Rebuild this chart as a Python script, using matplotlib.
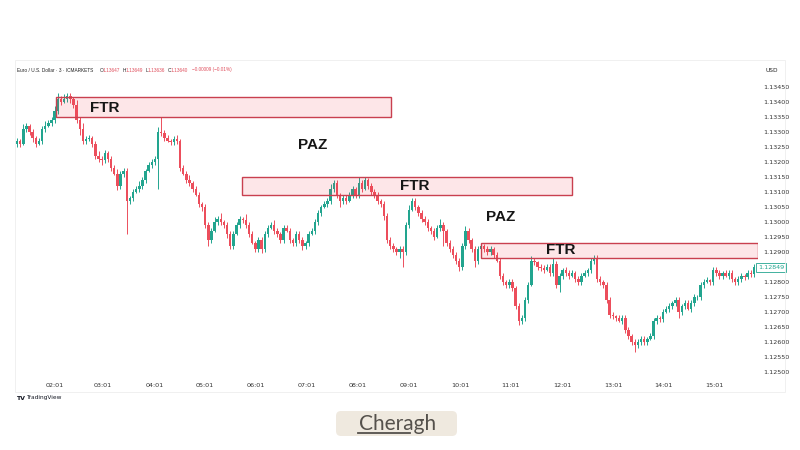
import matplotlib
matplotlib.use('Agg')
import matplotlib.pyplot as plt
from matplotlib.patches import Rectangle, FancyBboxPatch
from matplotlib.lines import Line2D
import matplotlib.transforms as mtransforms

# ---------------- data ----------------
first_open = 1.1326
closes = [
    1.1327, 1.1326, 1.1331, 1.1332, 1.1330, 1.1328, 1.1326, 1.1327, 1.1331, 1.1332,
    1.1333, 1.1334, 1.1337, 1.1341, 1.1340, 1.1341, 1.1342, 1.1341, 1.1339, 1.1334,
    1.1331, 1.1327, 1.13275, 1.1328, 1.1326, 1.1322, 1.1321, 1.13205, 1.1323, 1.1321,
    1.1318, 1.1316, 1.1312, 1.1316, 1.1317, 1.1307, 1.1308, 1.1310, 1.1311, 1.1312,
    1.1314, 1.1317, 1.1319, 1.1320, 1.1321, 1.1330, 1.13295, 1.1328, 1.1327, 1.13265,
    1.13275, 1.1327, 1.1318, 1.1316, 1.1314, 1.1313, 1.1311, 1.1309, 1.1306, 1.1305,
    1.1299, 1.1294, 1.1297, 1.1300, 1.1301, 1.1300, 1.1299, 1.1296, 1.1292, 1.1296,
    1.1299, 1.1301, 1.13005, 1.1299, 1.1296, 1.1293, 1.1291, 1.1294, 1.1291, 1.1296,
    1.1298, 1.1299, 1.1297, 1.1296, 1.1294, 1.1298, 1.1297, 1.1294, 1.1293, 1.1296,
    1.1294, 1.1292, 1.1293, 1.1296, 1.1297, 1.1300, 1.1303, 1.1305, 1.1306, 1.1307,
    1.1311, 1.1313, 1.1309, 1.1307, 1.1308, 1.1307, 1.1309, 1.1311, 1.1309, 1.1313,
    1.1311, 1.1314, 1.1312, 1.1310, 1.1309, 1.1307, 1.1306, 1.1302, 1.1294, 1.1292,
    1.1291, 1.1290, 1.1291, 1.1290, 1.1299, 1.1304, 1.1307, 1.1305, 1.1303, 1.1301,
    1.1300, 1.1298, 1.1297, 1.1295, 1.1298, 1.1299, 1.1297, 1.1293, 1.1291, 1.1289,
    1.1287, 1.1285, 1.1292, 1.1297, 1.1294, 1.1291, 1.1287, 1.1291, 1.1292, 1.1291,
    1.1290, 1.1291, 1.1289, 1.1287, 1.1282, 1.1280, 1.1279, 1.1280, 1.1278, 1.1272,
    1.1267, 1.1268, 1.1274, 1.1279, 1.1287, 1.12865, 1.1285, 1.12845, 1.1284, 1.1285,
    1.1283, 1.1286, 1.1279, 1.1282, 1.1284, 1.1283, 1.1282, 1.1283, 1.1281, 1.1280,
    1.1282, 1.1283, 1.1284, 1.1287, 1.1288, 1.1281, 1.1280, 1.1279, 1.1274, 1.1269,
    1.12685, 1.1268, 1.1267, 1.1268, 1.1264, 1.1262, 1.1260, 1.1259, 1.1260, 1.1261,
    1.1260, 1.1261, 1.1262, 1.1267, 1.1268, 1.12675, 1.1270, 1.1271, 1.1272, 1.1273,
    1.1274, 1.1270, 1.1272, 1.1273, 1.1271, 1.1273, 1.1275, 1.1275, 1.1279, 1.1280,
    1.12805, 1.1280, 1.1284, 1.1283, 1.1282, 1.1283, 1.1282, 1.1283, 1.1281, 1.1280,
    1.1281, 1.1282, 1.12815, 1.1283, 1.12825, 1.1285, 1.12849,
]
upper_wick_pips = [
    1, 0.5, 1.5, 1, 0.5, 1, 0.5, 1, 1, 1.5,
    1, 1, 1.5, 2, 1, 1.5, 1, 1, 0.5, 1.5,
    1, 2, 1, 1, 0.5, 1, 1.5, 1, 1, 0.5,
    1, 1, 1.5, 1, 1, 1, 0.5, 1, 1, 1.5,
    1, 0.5, 1, 1, 1, 1.5, 5, 1, 1, 0.5,
    1, 1.5, 0.5, 1, 1, 1.5, 0.5, 1, 1, 0.5,
    1, 1, 1, 1.5, 1, 2, 0.5, 1, 1, 1,
    1, 1, 0.5, 2, 1, 1, 0.5, 1, 1, 1,
    1, 1, 1.5, 1, 0.5, 1, 1, 1, 0.5, 1,
    1, 1, 0.5, 1, 1, 1, 1, 0.5, 1, 1,
    1.5, 1, 1, 0.5, 1, 1, 1, 1, 0.5, 2,
    1, 1, 0.5, 1, 1, 1, 0.5, 1, 1, 1,
    1, 0.5, 1, 1, 1, 1.5, 1, 1, 0.5, 1,
    1, 1, 0.5, 1, 1, 2, 1, 0.5, 1, 1,
    1, 1, 1, 1.5, 1, 0.5, 1, 1, 1, 0.5,
    1, 1, 0.5, 1, 1, 1, 0.5, 1, 1, 0.5,
    1, 1, 1, 1, 1.5, 1, 0.5, 1, 1, 1,
    1, 2, 1, 1, 0.5, 1, 1, 1, 0.5, 1,
    1, 1, 0.5, 1, 1, 1, 1, 0.5, 1, 1,
    1, 0.5, 1, 1, 1, 1, 0.5, 1, 1, 1,
    1, 0.5, 1, 1, 1, 0.5, 1, 1, 1, 0.5,
    1, 1, 0.5, 1, 1, 1, 1, 0.5, 1, 1,
    1, 0.5, 1, 1, 1, 0.5, 1, 1, 1, 0.5,
    1, 1, 0.5, 1, 1, 1, 0.5,
]
lower_wick_pips = [
    1, 1, 0.5, 1, 1, 1.5, 1, 0.5, 1, 1,
    0.5, 1, 1, 1, 1, 0.5, 1, 1.5, 1, 1,
    2, 1, 1, 0.5, 1, 1, 1, 1.5, 1, 1,
    1, 0.5, 1.5, 1, 1, 11, 1, 1, 0.5, 1,
    1, 1, 0.5, 1, 1, 10, 1, 1, 0.5, 1,
    1, 1, 1, 0.5, 1, 1, 1, 0.5, 1, 1.5,
    1, 2, 1, 0.5, 1, 1, 1, 1.5, 1, 1,
    0.5, 1, 1, 1, 1, 0.5, 1, 1, 1.5, 1,
    1, 0.5, 1, 1, 1, 1, 0.5, 1, 1, 1,
    1, 1.5, 1, 1, 0.5, 1, 1, 1, 0.5, 1,
    1, 1, 1, 2, 1, 1, 0.5, 1, 1, 1,
    1, 0.5, 1, 1, 1, 1, 1, 1.5, 1, 1,
    1, 1, 2, 5, 1, 1, 0.5, 1, 1, 1,
    1, 1, 1, 1, 0.5, 1, 5, 1, 1, 1,
    1, 1.5, 1, 1, 1, 1, 2, 1, 0.5, 1,
    1, 1, 1, 0.5, 1, 1, 1, 1, 1, 1,
    1.5, 1, 1, 1, 0.5, 1, 1, 1, 1, 0.5,
    1, 1, 1, 2.5, 1, 1, 1, 0.5, 1, 1,
    1, 0.5, 1, 1, 1, 1, 1, 1, 1, 1,
    1, 1, 0.5, 1, 1, 1, 1, 2.5, 1, 1,
    1, 1, 0.5, 1, 1, 1, 1, 0.5, 1, 1,
    1, 2, 1, 1, 0.5, 1, 1, 1, 1, 1,
    0.5, 1, 1, 1, 1, 1, 0.5, 1, 1, 1,
    1, 1, 1, 0.5, 1, 1, 1,
]
hour_labels = ['02:01', '03:01', '04:01', '05:01', '06:01', '07:01', '08:01',
               '09:01', '10:01', '11:01', '12:01', '13:01', '14:01', '15:01']
hour_index = [12.1, 27.4, 44.0, 59.9, 76.2, 92.5, 108.7, 125.0, 141.3,
              157.5, 173.8, 190.1, 206.0, 222.3]
price_ticks = [1.12500, 1.12550, 1.12600, 1.12650, 1.12700, 1.12750, 1.12800,
               1.12850, 1.12900, 1.12950, 1.13000, 1.13050, 1.13100, 1.13150,
               1.13200, 1.13250, 1.13300, 1.13350, 1.13400, 1.13450]
last_price = 1.12849

# zones: (start index, end index, low price, high price)
zone_start = [12.4, 71.7, 148.0]
zone_end = [119.3, 177.0, 236.3]
zone_low = [1.13350, 1.13090, 1.12880]
zone_high = [1.13418, 1.13151, 1.12931]
label_text = ['FTR', 'FTR', 'FTR', 'PAZ', 'PAZ']
label_index = [28.1, 126.9, 173.5, 94.4, 154.3]
label_price = [1.13380, 1.13120, 1.12905, 1.13257, 1.13017]

# ---------------- figure ----------------
W, H = 800, 450
fig = plt.figure(figsize=(8, 4.5), dpi=100)
fig.patch.set_facecolor('white')

def fx(px):
    return px / W

def fy(py):
    return 1 - py / H

ax = fig.add_axes([fx(15), fy(378), fx(758) - fx(15), fy(62) - fy(378)])
ax.set_facecolor('none')
for s in ax.spines.values():
    s.set_visible(False)

up_col = '#22a58f'
dn_col = '#ec4e5c'

opens = [first_open] + closes[:-1]
n = len(closes)
for i in range(n):
    o, c = opens[i], closes[i]
    hi = max(o, c) + upper_wick_pips[i] / 10000
    lo = min(o, c) - lower_wick_pips[i] / 10000
    col = up_col if c >= o else dn_col
    ax.vlines(i, lo, hi, color=col, lw=0.7, zorder=2)
    body = max(abs(c - o), 0.000014)
    ax.bar(i, body, bottom=min(o, c), width=0.78, color=col, lw=0, zorder=3)

for s0, s1, lo, hi in zip(zone_start, zone_end, zone_low, zone_high):
    ax.add_patch(Rectangle((s0, lo), s1 - s0, hi - lo, facecolor='#f23645',
                           alpha=0.12, lw=0, zorder=4))
    ax.add_patch(Rectangle((s0, lo), s1 - s0, hi - lo, facecolor='none',
                           edgecolor='#c9404f', lw=1.0, zorder=5))

for t, xi, yp in zip(label_text, label_index, label_price):
    ax.text(xi, yp, t, ha='center', va='center', fontsize=11,
            fontweight='bold', color='#161616', family='Liberation Sans', zorder=6)

ax.set_xlim(-0.64, 236.3)
ax.set_ylim(1.12480, 1.135333)

ax.set_xticks(hour_index)
ax.set_xticklabels(hour_labels)
ax.tick_params(axis='x', length=0, pad=3.5, labelsize=4.6, labelcolor='#333333')
ax.yaxis.tick_right()
ax.set_yticks(price_ticks)
ax.set_yticklabels(['' if abs(p - 1.1285) < 1e-7 else f'{p:.5f}' for p in price_ticks])
ax.tick_params(axis='y', length=0, pad=3.8, labelsize=4.6, labelcolor='#333333')

# last price tag
trans = mtransforms.blended_transform_factory(ax.transAxes, ax.transData)
ax.text(1 + (771 - 758) / (758 - 15), last_price, f'{last_price:.5f}', transform=trans,
        ha='center', va='center', fontsize=4.6, color=up_col, clip_on=False,
        bbox=dict(boxstyle='square,pad=0.3', fc='white', ec=up_col, lw=0.6), zorder=7)

# frame
fig.add_artist(Rectangle((fx(15), fy(392)), fx(785) - fx(15), fy(60) - fy(392),
                         transform=fig.transFigure, fill=False, ec='#eeeeee', lw=0.6))

# header line
ty = fy(70)
fig.text(fx(17), ty, 'Euro / U.S. Dollar · 3 · ICMARKETS', fontsize=3.4,
         color='#222222', va='center', family='Liberation Sans')
hdr = [(99.5, 'O', '#222222'), (102.5, '1.13647', '#e0505e'),
       (122.5, 'H', '#222222'), (125.5, '1.13649', '#e0505e'),
       (145.5, 'L', '#222222'), (148, '1.13636', '#e0505e'),
       (168, 'C', '#222222'), (171, '1.13640', '#e0505e'),
       (192, '−0.00009 (−0.01%)', '#e0505e')]
for xp, t, c in hdr:
    fig.text(fx(xp), ty, t, fontsize=3.4, color=c, va='center', family='Liberation Sans')
fig.text(fx(765), ty, 'USD', fontsize=4.2, color='#222222', va='center')

# TradingView mark
fig.text(fx(16), fy(398), 'TV', fontsize=4.5, fontweight='bold', color='#131722',
         va='center')
fig.text(fx(26), fy(398), 'TradingView', fontsize=4.2, color='#131722', va='center')

# Cheragh badge
badge = FancyBboxPatch((3.36, (H - 436) / 100), 1.21, 0.25,
                       boxstyle='round,pad=0,rounding_size=0.05',
                       transform=fig.dpi_scale_trans, fc='#efe9df', ec='none')
fig.add_artist(badge)
fig.text(fx(397.5), fy(423.5), 'Cheragh', fontsize=15, color='#55514c',
         ha='center', va='center', family='Lato')
fig.add_artist(Line2D([fx(358), fx(410)], [fy(432.5), fy(432.5)],
                      transform=fig.transFigure, color='#55514c', lw=1.3))

fig.savefig('out.png', dpi=100)
